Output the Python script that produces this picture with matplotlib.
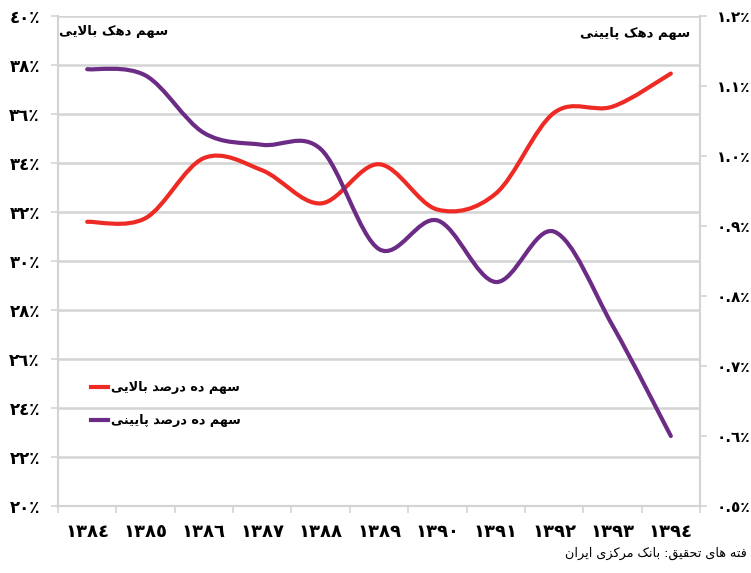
import matplotlib
matplotlib.use("Agg")
import matplotlib.pyplot as plt
from matplotlib.path import Path
from matplotlib.patches import PathPatch
from matplotlib.lines import Line2D
from matplotlib.ticker import FixedLocator

# ---------------- data ----------------
years = ["1384", "1385", "1386", "1387", "1388", "1389", "1390", "1391", "1392", "1393", "1394"]
top_decile = [31.6, 31.75, 34.2, 33.7, 32.35, 33.95, 32.1, 32.75, 36.05, 36.3, 37.65]      # left axis, %
bottom_decile = [1.124, 1.115, 1.033, 1.016, 1.01, 0.867, 0.908, 0.82, 0.892, 0.758, 0.60]  # right axis, %
left_ticks = [20, 22, 24, 26, 28, 30, 32, 34, 36, 38, 40]
right_ticks = [0.5, 0.6, 0.7, 0.8, 0.9, 1.0, 1.1, 1.2]

label_top_axis = "سهم دهک بالایی"
label_bottom_axis = "سهم دهک پایینی"
legend_top = "سهم ده درصد بالایی"
legend_bottom = "سهم ده درصد پایینی"
source_text = "فته های تحقیق: بانک مرکزی ایران"

RED = "#ee2a24"
PURPLE = "#6c2c86"
GRID = "#d4d4d4"

# ---------------- Arabic/Persian shaping helpers ----------------
FORMS = {
    'ا': ('\uFE8D', '\uFE8E', None, None),
    'ب': ('\uFE8F', '\uFE90', '\uFE91', '\uFE92'),
    'پ': ('\uFB56', '\uFB57', '\uFB58', '\uFB59'),
    'ت': ('\uFE95', '\uFE96', '\uFE97', '\uFE98'),
    'ح': ('\uFEA1', '\uFEA2', '\uFEA3', '\uFEA4'),
    'د': ('\uFEA9', '\uFEAA', None, None),
    'ر': ('\uFEAD', '\uFEAE', None, None),
    'ز': ('\uFEAF', '\uFEB0', None, None),
    'س': ('\uFEB1', '\uFEB2', '\uFEB3', '\uFEB4'),
    'ص': ('\uFEB9', '\uFEBA', '\uFEBB', '\uFEBC'),
    'ف': ('\uFED1', '\uFED2', '\uFED3', '\uFED4'),
    'ق': ('\uFED5', '\uFED6', '\uFED7', '\uFED8'),
    'ک': ('\uFB8E', '\uFB8F', '\uFB90', '\uFB91'),
    'ل': ('\uFEDD', '\uFEDE', '\uFEDF', '\uFEE0'),
    'م': ('\uFEE1', '\uFEE2', '\uFEE3', '\uFEE4'),
    'ن': ('\uFEE5', '\uFEE6', '\uFEE7', '\uFEE8'),
    'ه': ('\uFEE9', '\uFEEA', '\uFEEB', '\uFEEC'),
    'ی': ('\uFBFC', '\uFBFD', '\uFBFE', '\uFBFF'),
}


def shape(text):
    chars = list(text)
    n = len(chars)
    out = []
    i = 0
    prev_joins = False
    while i < n:
        c = chars[i]
        if c not in FORMS:
            out.append(c)
            prev_joins = False
            i += 1
            continue
        if c == 'ل' and i + 1 < n and chars[i + 1] == 'ا':
            out.append('\uFEFC' if prev_joins else '\uFEFB')
            prev_joins = False
            i += 2
            continue
        iso, fin, ini, med = FORMS[c]
        nxt = chars[i + 1] if i + 1 < n else None
        next_joins = ini is not None and nxt in FORMS
        if prev_joins and next_joins:
            out.append(med)
        elif prev_joins:
            out.append(fin)
        elif next_joins:
            out.append(ini)
        else:
            out.append(iso)
        prev_joins = ini is not None
        i += 1
    return ''.join(reversed(out))


AR_DIGITS = str.maketrans("0123456789%", "٠١٢٣٤٥٦٧٨٩٪")


def ar_num(s):
    return s.translate(AR_DIGITS)


def smooth_path(xs, ys):
    pts = list(zip(xs, ys))
    verts = [pts[0]]
    codes = [Path.MOVETO]
    n = len(pts)
    for k in range(n - 1):
        p0 = pts[k - 1] if k > 0 else pts[k]
        p1 = pts[k]
        p2 = pts[k + 1]
        p3 = pts[k + 2] if k + 2 < n else pts[k + 1]
        c1 = (p1[0] + (p2[0] - p0[0]) / 6.0, p1[1] + (p2[1] - p0[1]) / 6.0)
        c2 = (p2[0] - (p3[0] - p1[0]) / 6.0, p2[1] - (p3[1] - p1[1]) / 6.0)
        verts += [c1, c2, p2]
        codes += [Path.CURVE4] * 3
    return Path(verts, codes)


plt.rcParams['font.family'] = ['DejaVu Sans']

W, H = 751, 573
fig = plt.figure(figsize=(W / 100, H / 100), dpi=100)
ax = fig.add_axes([58 / W, 67 / H, 642 / W, 490 / H])
ax2 = ax.twinx()

xs = list(range(len(years)))

p1 = PathPatch(smooth_path(xs, top_decile), facecolor='none', edgecolor=RED,
               lw=3.0, capstyle='round', joinstyle='round', zorder=3)
ax.add_patch(p1)
p2 = PathPatch(smooth_path(xs, bottom_decile), facecolor='none', edgecolor=PURPLE,
               lw=3.0, capstyle='round', joinstyle='round', zorder=3)
ax2.add_patch(p2)

ax.set_xlim(-0.5, len(years) - 0.5)
ax.set_ylim(left_ticks[0], left_ticks[-1])
ax2.set_ylim(right_ticks[0], right_ticks[-1])

# x axis
ax.set_xticks(xs)
ax.set_xticklabels([ar_num(y) for y in years], fontsize=13, fontweight='bold')
ax.xaxis.set_minor_locator(FixedLocator([x - 0.5 for x in range(len(years) + 1)]))
ax.tick_params(axis='x', which='major', length=0, pad=12)
ax.tick_params(axis='x', which='minor', length=5, color=GRID, width=1.2)

# left y axis
ax.set_yticks(left_ticks)
ax.set_yticklabels([ar_num(f"{v}%") for v in left_ticks], fontsize=12, fontweight='bold')
ax.tick_params(axis='y', length=5, color=GRID, width=1.2, pad=8)
ax.grid(axis='y', color=GRID, lw=1.8)
ax.set_axisbelow(True)

# right y axis
ax2.set_yticks(right_ticks)
ax2.set_yticklabels([ar_num(f"{v:.1f}%") for v in right_ticks], fontsize=11, fontweight='bold')
ax2.tick_params(axis='y', length=5, color=GRID, width=1.2, pad=7)

for a in (ax, ax2):
    a.spines['top'].set_visible(False)
    for s in ('left', 'right', 'bottom'):
        a.spines[s].set_color(GRID)
        a.spines[s].set_linewidth(1.5)

# in-plot axis captions
fig.text(168 / W, 1 - 32 / H, shape(label_top_axis), ha='right', va='center',
         fontsize=9.5, fontweight='bold')
fig.text(690 / W, 1 - 33 / H, shape(label_bottom_axis), ha='right', va='center',
         fontsize=9.5, fontweight='bold')

# legend
handles = [Line2D([], [], color=RED, lw=3), Line2D([], [], color=PURPLE, lw=3)]
leg = ax.legend(handles, [shape(legend_top), shape(legend_bottom)],
                loc='upper left', bbox_to_anchor=(22 / 642, (506 - 370) / 490),
                frameon=False, handlelength=1.3, handletextpad=0.2,
                labelspacing=1.55, prop={'size': 9.2, 'weight': 'bold'})

# source
fig.text(747 / W, 1 - 553 / H, shape(source_text), ha='right', va='center', fontsize=9.2)

fig.savefig("out.png", dpi=100)
